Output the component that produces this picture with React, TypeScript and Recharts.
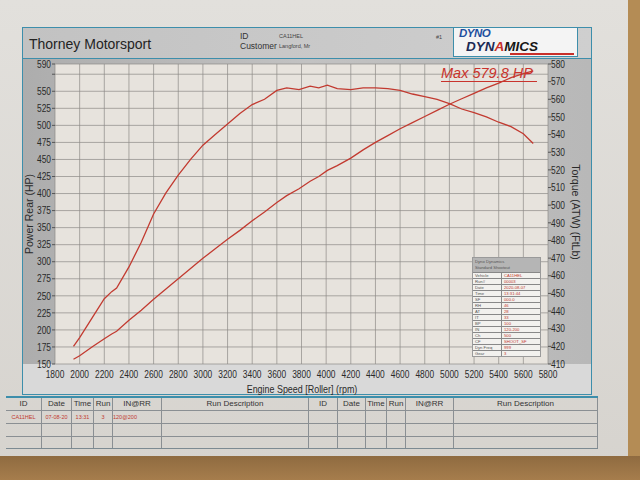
import React from "react";
import { LineChart, Line, XAxis, YAxis, CartesianGrid } from "recharts";

// engine speed samples (rpm)
const RPM = [
  1950, 2000, 2100, 2200, 2260, 2300, 2400, 2500, 2600, 2700, 2800, 2900, 3000, 3100,
  3200, 3300, 3400, 3500, 3600, 3680, 3780, 3870, 3940, 4010, 4090, 4200, 4300, 4400,
  4500, 4600, 4700, 4800, 4900, 5000, 5100, 5200, 5300, 5400, 5500, 5600, 5680,
];

// Power Rear (HP), left axis
const POWER_HP = [
  157, 162, 175, 187, 194, 198, 214, 229, 245, 260, 275, 290, 305, 319,
  333, 346, 360, 373, 387, 397, 407, 418, 425, 434, 441, 452, 464, 475,
  485, 495, 504, 513, 522, 531, 539, 547, 555, 562, 570, 576, 579.8,
];

// Torque (ATW) (FtLb), right axis
const TORQUE_FTLB = [
  420, 425, 436, 447, 451, 453, 465, 479, 495, 507, 517, 526, 534, 540,
  546, 552, 557, 560, 565, 566.5, 565.5, 567.5, 566.5, 568, 566, 565.5, 566.5, 566.5,
  566, 565, 563, 561.5, 560, 557.5, 554.5, 552.5, 550, 547, 544.5, 540.5, 535,
];

const RPM_TICKS = [
  1800, 2000, 2200, 2400, 2600, 2800, 3000, 3200, 3400, 3600, 3800, 4000, 4200, 4400,
  4600, 4800, 5000, 5200, 5400, 5600, 5800,
];
const HP_TICKS = [
  150, 175, 200, 225, 250, 275, 300, 325, 350, 375, 400, 425, 450, 475, 500, 525, 550, 575, 590,
];
const TQ_TICKS = [
  410, 420, 430, 440, 450, 460, 470, 480, 490, 500, 510, 520, 530, 540, 550, 560, 570, 580,
];

const SHOOTOUT_ROWS = [
  ["Vehicle", "CA11HEL"],
  ["Run#", "00003"],
  ["Date", "2020-08-07"],
  ["Time", "13:31:44"],
  ["SF", "000.0"],
  ["RH", "46"],
  ["AT", "28"],
  ["IT", "33"],
  ["BP", "100"],
  ["IN", "120-200"],
  ["Ch", "500"],
  ["CF", "SHOOT_SF"],
  ["Dyn Freq", "999"],
  ["Gear", "3"],
];

const RUN_HEADERS = ["ID", "Date", "Time", "Run", "IN@RR", "Run Description"];
const RUN_ROW = ["CA11HEL", "07-08-20", "13:31", "3", "120@200", ""];

const data = RPM.map((rpm, i) => ({ rpm, hp: POWER_HP[i], tq: TORQUE_FTLB[i] }));

const RED = "#c23a30";
const TEAL = "#3d8eab";
const FONT = '"Liberation Sans", Arial, sans-serif';

// no narrow font installed, so squeeze the tick text horizontally
const NarrowTick = (props: any) => {
  const { x, y, payload, textAnchor, dy, hide } = props;
  const label = hide && hide(payload.value) ? "" : String(payload.value);
  return (
    <g transform={`translate(${x},${y})`}>
      <text
        transform="scale(0.8,1)"
        textAnchor={textAnchor}
        dy={dy}
        fontSize={10.5}
        fill="#2a2a2a"
        fontFamily={FONT}
      >
        {label}
      </text>
    </g>
  );
};

const abs = (left: number, top: number, extra: React.CSSProperties = {}): React.CSSProperties => ({
  position: "absolute",
  left,
  top,
  ...extra,
});

const RunTable = ({ cols, row }: { cols: number[]; row?: string[] }) => (
  <>
    {RUN_HEADERS.map((h, i) => (
      <div
        key={h}
        style={abs(cols[i], 398, {
          width: cols[i + 1] - cols[i],
          height: 12,
          fontSize: 8,
          color: "#333",
          textAlign: "center",
          lineHeight: "12px",
          borderRight: "1px solid #8a8f93",
          boxSizing: "border-box",
        })}
      >
        {h}
      </div>
    ))}
    {[0, 1, 2].map((r) =>
      RUN_HEADERS.map((h, i) => (
        <div
          key={`${r}-${h}`}
          style={abs(cols[i], 410 + r * 13, {
            width: cols[i + 1] - cols[i],
            height: 13,
            fontSize: 5.5,
            color: RED,
            textAlign: i === 4 ? "left" : "center",
            lineHeight: "13px",
            borderRight: "1px solid #8a8f93",
            borderTop: "1px solid #8a8f93",
            boxSizing: "border-box",
            overflow: "hidden",
            whiteSpace: "nowrap",
          })}
        >
          {r === 0 && row ? row[i] : ""}
        </div>
      ))
    )}
  </>
);

const titleStyle: React.CSSProperties = {
  fontSize: 10.5,
  color: "#2a2a2a",
  whiteSpace: "nowrap",
  lineHeight: "11px",
};

export default function App() {
  return (
    <div
      style={{
        position: "fixed",
        left: 0,
        top: 0,
        width: 640,
        height: 480,
        overflow: "hidden",
        background: "linear-gradient(180deg, #e2e0dc 0%, #d6d3ce 100%)",
        fontFamily: FONT,
      }}
    >
      {/* wood under the sheet */}
      <div style={abs(628, 0, { width: 12, height: 480, background: "#b48c55" })} />
      <div style={abs(0, 456, { width: 640, height: 24, background: "linear-gradient(180deg,#8f6b40,#a67d4c)" })} />

      {/* printed frame */}
      <div
        style={abs(22, 27, {
          width: 570,
          height: 368,
          border: `1px solid ${TEAL}`,
          boxSizing: "border-box",
          background: "linear-gradient(90deg, #adadad 0%, #c2c2c2 50%, #b8b8b8 100%)",
        })}
      />
      <div style={abs(23, 364, { width: 568, height: 30, background: "#d9d9d9" })} />
      <div
        style={abs(23, 28, {
          width: 568,
          height: 30,
          background: "linear-gradient(90deg,#c2c2c2,#cfcfcf)",
          borderBottom: `1.5px solid ${TEAL}`,
        })}
      />
      <div style={abs(29, 36, { fontSize: 14, color: "#232323" })}>Thorney Motorsport</div>
      <div style={abs(240, 31, { fontSize: 8.5, color: "#333" })}>ID</div>
      <div style={abs(279, 33, { fontSize: 5.5, color: "#444" })}>CA11HEL</div>
      <div style={abs(240, 41, { fontSize: 8.5, color: "#333" })}>Customer</div>
      <div style={abs(279, 43, { fontSize: 5.5, color: "#444" })}>Langford, Mr</div>
      <div style={abs(436, 34, { fontSize: 5.5, color: "#444" })}>#1</div>

      {/* logo */}
      <div
        style={abs(453, 27, {
          width: 125,
          height: 30,
          background: "#f4f4f4",
          border: `1.5px solid ${TEAL}`,
          boxSizing: "border-box",
          overflow: "hidden",
        })}
      >
        <div
          style={abs(5, 0, {
            fontSize: 11.5,
            lineHeight: "11px",
            fontWeight: 900,
            fontStyle: "italic",
            color: "#1f4f9e",
            letterSpacing: -0.5,
          })}
        >
          DYNO
        </div>
        <div
          style={abs(12, 13, {
            fontSize: 13.5,
            lineHeight: "12px",
            fontWeight: 900,
            fontStyle: "italic",
            color: "#1c2a55",
          })}
        >
          DYN<span style={{ color: "#c8302a" }}>A</span>
          <span style={{ color: "#161616" }}>MICS</span>
        </div>
        <div style={abs(56, 25, { width: 64, height: 2, background: "#c8302a" })} />
      </div>

      {/* chart */}
      <div style={abs(0, 0)}>
        <LineChart
          width={600}
          height={400}
          data={data}
          margin={{ top: 64, right: 12, left: 23, bottom: 6 }}
        >
          <CartesianGrid yAxisId="hp" stroke="#8c8a86" strokeWidth={0.7} fill="#e7e3dd" />
          <XAxis
            dataKey="rpm"
            type="number"
            domain={[1800, 5800]}
            ticks={RPM_TICKS}
            interval={0}
            height={30}
            tick={<NarrowTick dy={8} />}
            axisLine={false}
            tickLine={false}
            tickMargin={0}
          />
          <YAxis
            yAxisId="hp"
            orientation="left"
            width={32}
            domain={[150, 590]}
            ticks={HP_TICKS}
            interval={0}
            tick={<NarrowTick dy={3.7} hide={(v: number) => v === 575} />}
            axisLine={false}
            tickSize={3}
            tickMargin={1}
            tickLine={{ stroke: "#555" }}
          />
          <YAxis
            yAxisId="tq"
            orientation="right"
            width={40}
            domain={[410, 580]}
            ticks={TQ_TICKS}
            interval={0}
            tick={<NarrowTick dy={3.7} />}
            axisLine={false}
            tickSize={3}
            tickMargin={0}
            tickLine={{ stroke: "#555" }}
          />
          <Line
            yAxisId="tq"
            dataKey="tq"
            type="linear"
            stroke={RED}
            strokeWidth={1.3}
            dot={false}
            isAnimationActive={false}
          />
          <Line
            yAxisId="hp"
            dataKey="hp"
            type="linear"
            stroke={RED}
            strokeWidth={1.3}
            dot={false}
            isAnimationActive={false}
          />
        </LineChart>
      </div>

      {/* axis titles */}
      <div style={abs(29, 214, { ...titleStyle, transform: "translate(-50%, -50%) rotate(-90deg)" })}>
        Power Rear (HP)
      </div>
      <div style={abs(575, 212, { ...titleStyle, transform: "translate(-50%, -50%) rotate(90deg)" })}>
        Torque (ATW) (FtLb)
      </div>
      <div style={abs(302, 384, { ...titleStyle, transform: "translateX(-50%) scaleX(0.85)" })}>
        Engine Speed [Roller] (rpm)
      </div>

      {/* max label */}
      <div
        style={abs(441, 66, {
          fontSize: 14.5,
          fontStyle: "italic",
          color: "#c9332c",
          borderBottom: "1.5px solid #c9332c",
          lineHeight: "15px",
          paddingRight: 4,
          whiteSpace: "nowrap",
        })}
      >
        Max 579.8 HP
      </div>

      {/* shootout box */}
      <div
        style={abs(472, 257, {
          width: 69,
          background: "#f2f1ee",
          border: "1px solid #9a9a9a",
          boxSizing: "border-box",
          fontSize: 4.2,
          color: "#555",
        })}
      >
        <div style={{ background: "#b5b5b5", height: 14, padding: "1px 2px", lineHeight: "5.5px", boxSizing: "border-box" }}>
          Dyno Dynamics
          <br />
          Standard Shootout
        </div>
        {SHOOTOUT_ROWS.map(([k, v]) => (
          <div
            key={k}
            style={{ display: "flex", height: 6, lineHeight: "5.5px", borderTop: "0.5px solid #888", boxSizing: "border-box" }}
          >
            <div style={{ width: 26, paddingLeft: 2, borderRight: "0.5px solid #888" }}>{k}</div>
            <div style={{ paddingLeft: 2, color: RED }}>{v}</div>
          </div>
        ))}
      </div>

      {/* run table */}
      <div style={abs(6, 396, { width: 592, height: 1.5, background: TEAL })} />
      <RunTable cols={[6, 42, 72, 94, 113, 162, 309]} row={RUN_ROW} />
      <RunTable cols={[309, 338, 366, 387, 406, 454, 598]} />
      <div style={abs(6, 448, { width: 592, height: 1, background: "#7c8a92" })} />
    </div>
  );
}
